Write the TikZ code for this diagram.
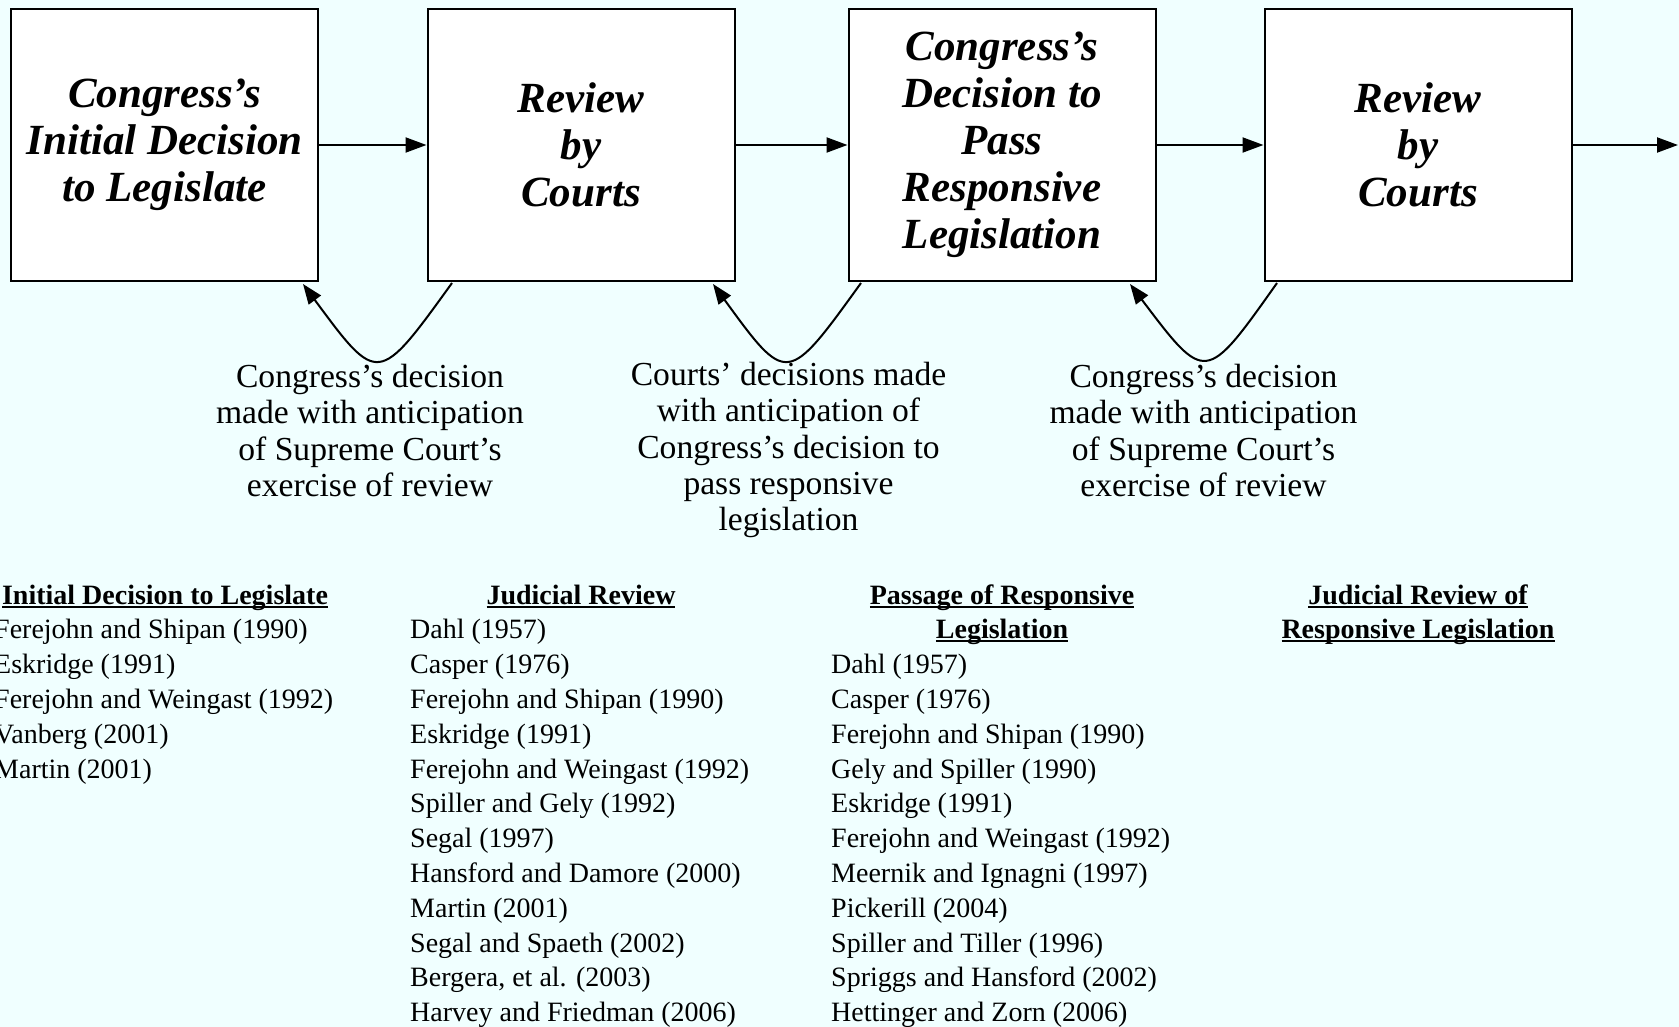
\documentclass[tikz,border=0pt]{standalone}
\usepackage{fontspec}
\setmainfont{Liberation Serif}
\usetikzlibrary{arrows.meta}
\definecolor{bgcol}{RGB}{240,255,255}
\newcommand\myul[1]{\leavevmode\setbox0\hbox{#1}\rlap{\vrule width\wd0 height -1.5pt depth 3.5pt}\box0}
\begin{document}
\begin{tikzpicture}[x=1pt,y=-1pt,
  stage/.style={draw, line width=2pt, fill=white, minimum width=307pt, minimum height=272pt,
    align=center, inner sep=0pt, font=\fontsize{43}{46.9}\selectfont\bfseries\itshape},
  flow/.style={line width=2pt, -{Triangle[length=21pt,width=15pt]}},
  loopback/.style={line width=2pt, -{Triangle[length=20pt,width=15pt]}},
  note/.style={align=center, inner sep=0pt, font=\fontsize{33.6}{36.4}\selectfont},
  head/.style={anchor=base, inner sep=0pt, font=\fontsize{28}{34.8}\selectfont\bfseries},
  item/.style={anchor=base west, inner sep=0pt, font=\fontsize{28}{34.8}\selectfont}]

\fill[bgcol] (0,0) rectangle (1679,1027);
\useasboundingbox (0,0) rectangle (1679,1027);

% stage boxes
\node[stage] (b1) at (164.5,145) {Congress’s\\Initial Decision\\to Legislate};
\node[stage] (b2) at (581,145) {Review\\by\\Courts};
\node[stage] (b3) at (1002,145) {Congress’s\\Decision to\\Pass\\Responsive\\Legislation};
\node[stage] (b4) at (1418,145) {Review\\by\\Courts};
\coordinate (out) at (1678,145);

% forward arrows
\draw[flow] (b1) -- (b2);
\draw[flow] (b2) -- (b3);
\draw[flow] (b3) -- (b4);
\draw[flow] (b4.east) -- (out);

% anticipation loops
\coordinate (s1) at (452,283);  \coordinate (e1) at (303,284);
\coordinate (s2) at (861,283);  \coordinate (e2) at (713,284);
\coordinate (s3) at (1277,283); \coordinate (e3) at (1130,284);
\draw[loopback] (s1) .. controls (378,385.5) .. (e1);
\draw[loopback] (s2) .. controls (787,385.5) .. (e2);
\draw[loopback] (s3) .. controls (1205.5,384) .. (e3);

% notes
\node[note] (n1) at (370,430.5) {Congress’s decision\\made with anticipation\\of Supreme Court’s\\exercise of review};
\node[note] (n2) at (788.5,450) {Courts’ decisions made\\with anticipation of\\Congress’s decision to\\pass responsive\\legislation};
\node[note] (n3) at (1203.5,430.5) {Congress’s decision\\made with anticipation\\of Supreme Court’s\\exercise of review};

% literature columns
\node[head] (h1) at (165,604) {\myul{Initial Decision to Legislate}};
\node[head] (h2) at (581,604) {\myul{Judicial Review}};
\node[head] (h3a) at (1002,604) {\myul{Passage of Responsive}};
\node[head] (h3b) at (1002,638.8) {\myul{Legislation}};
\node[head] (h4a) at (1418,604) {\myul{Judicial Review of}};
\node[head] (h4b) at (1418,638.8) {\myul{Responsive Legislation}};

\foreach \t [count=\i] in {Ferejohn and Shipan (1990), Eskridge (1991), Ferejohn and Weingast (1992), Vanberg (2001), Martin (2001)}
  \node[item] (c1-\i) at (-6,604+34.8*\i) {\t};

\foreach \t [count=\i] in {Dahl (1957), Casper (1976), Ferejohn and Shipan (1990), Eskridge (1991), Ferejohn and Weingast (1992), Spiller and Gely (1992), Segal (1997), Hansford and Damore (2000), Martin (2001), Segal and Spaeth (2002), {Bergera, et al. (2003)}, Harvey and Friedman (2006)}
  \node[item] (c2-\i) at (410,604+34.8*\i) {\t};

\foreach \t [count=\i] in {Dahl (1957), Casper (1976), Ferejohn and Shipan (1990), Gely and Spiller (1990), Eskridge (1991), Ferejohn and Weingast (1992), Meernik and Ignagni (1997), Pickerill (2004), Spiller and Tiller (1996), Spriggs and Hansford (2002), Hettinger and Zorn (2006)}
  \node[item] (c3-\i) at (831,638.8+34.8*\i) {\t};

\end{tikzpicture}
\end{document}
